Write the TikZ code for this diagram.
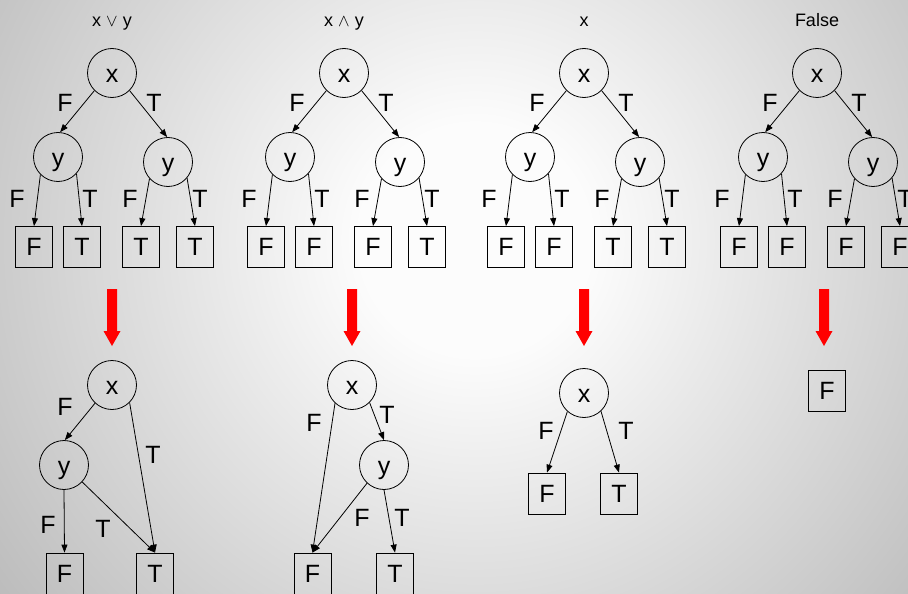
\documentclass[tikz,border=0pt]{standalone}
\usepackage{fontspec}
\setmainfont{Liberation Sans}
\usetikzlibrary{arrows.meta}
\definecolor{bgin}{gray}{0.99}
\definecolor{bgout}{gray}{0.58}
\definecolor{arrowred}{RGB}{255,0,0}
\pgfdeclareradialshading{backdrop}{\pgfpoint{0bp}{0bp}}{%
  color(0bp)=(bgin); color(4bp)=(bgin); color(32bp)=(bgout); color(50bp)=(bgout)}

% full decision tree over x and y with the four leaf values #4..#7
\newcommand\fulltree[7]{%
  \node[titletext] (#1-title) at (#2,27) {#3};
  \node[var] (#1-x)  at (#2,73) {x};
  \node[var] (#1-ya) at ({#2-54},157) {y};
  \node[var] (#1-yb) at ({#2+56},162) {y};
  \node[leaf] (#1-l1) at ({#2-78},247) {#4};
  \node[leaf] (#1-l2) at ({#2-30},247) {#5};
  \node[leaf] (#1-l3) at ({#2+29},247) {#6};
  \node[leaf] (#1-l4) at ({#2+83},247) {#7};
  \draw[edge] (#1-x.225) -- (#1-ya.85);
  \draw[edge] (#1-x.315) -- (#1-yb.92);
  \draw[edge] (#1-ya.225) -- (#1-l1.north);
  \draw[edge] (#1-ya.318) -- (#1-l2.north);
  \draw[edge] (#1-yb.222) -- (#1-l3.north);
  \draw[edge] (#1-yb.320) -- (#1-l4.north);
  \node[lab] (#1-f0) at ({#2-47},103) {F};
  \node[lab] (#1-t0) at ({#2+42},103) {T};
  \node[lab] (#1-f1) at ({#2-95},199) {F};
  \node[lab] (#1-t1) at ({#2-22},199) {T};
  \node[lab] (#1-f2) at ({#2+18},199) {F};
  \node[lab] (#1-t2) at ({#2+88},199) {T};
}

% thick red arrow pointing down, centred on x = #1
\newcommand\reddown[1]{%
  \fill[arrowred] ({#1-5},289) -- ({#1+5},289) -- ({#1+5},331) -- ({#1+8.5},331)
    -- (#1,346) -- ({#1-8.5},331) -- ({#1-5},331) -- cycle;
}

\begin{document}
\begin{tikzpicture}[x=1pt,y=-1pt,
  var/.style={draw, circle, line width=0.8pt, minimum size=49pt, inner sep=0pt,
    font=\fontsize{25}{25}\selectfont, text height=18pt, text depth=0pt},
  leaf/.style={draw, rectangle, line width=0.8pt, minimum width=37pt, minimum height=41pt,
    inner sep=0pt, font=\fontsize{25}{25}\selectfont},
  lab/.style={inner sep=0pt, font=\fontsize{25}{25}\selectfont},
  titletext/.style={anchor=base, inner sep=0pt, font=\fontsize{18}{18}\selectfont},
  edge/.style={line width=0.8pt, -{Triangle[length=8pt,width=6pt]}},
]
\useasboundingbox (0,0) rectangle (908,594);
\begin{scope}
  \clip (0,0) rectangle (908,594);
  \shade[shading=backdrop] (475,240) circle[radius=700];
\end{scope}

\fulltree{or}{112}{x $\vee$ y}{F}{T}{T}{T}
\fulltree{and}{344}{x $\wedge$ y}{F}{F}{F}{T}
\fulltree{id}{584}{x}{F}{F}{T}{T}
\fulltree{false}{817}{False}{F}{F}{F}{F}

\reddown{112}
\reddown{352}
\reddown{584}
\reddown{824}

% reduced diagram for x or y
\node[var]  (ror-x) at (112,385) {x};
\node[var]  (ror-y) at (64,465) {y};
\node[leaf] (ror-f) at (64.5,573.5) {F};
\node[leaf] (ror-t) at (155,573.5) {T};
\draw[edge] (ror-x.227) -- (ror-y.88);
\draw[edge] (ror-x.315) -- (ror-t.north);
\draw[edge] (ror-y.270) -- (ror-f.north);
\draw[edge] (ror-y.317) -- (ror-t.north);
\node[lab] (ror-l1) at (65,407) {F};
\node[lab] (ror-l2) at (153,455) {T};
\node[lab] (ror-l3) at (48,525) {F};
\node[lab] (ror-l4) at (103,529) {T};

% reduced diagram for x and y
\node[var]  (rand-x) at (352,385) {x};
\node[var]  (rand-y) at (384,465) {y};
\node[leaf] (rand-f) at (312.5,573.5) {F};
\node[leaf] (rand-t) at (395,573.5) {T};
\draw[edge] (rand-x.227) -- (rand-f.north);
\draw[edge] (rand-x.315) -- (rand-y.90);
\draw[edge] (rand-y.227) -- (rand-f.north);
\draw[edge] (rand-y.270) -- (rand-t.north);
\node[lab] (rand-l1) at (314,423) {F};
\node[lab] (rand-l2) at (387,415) {T};
\node[lab] (rand-l3) at (362,518) {F};
\node[lab] (rand-l4) at (402,518) {T};

% reduced diagram for x
\node[var]  (rid-x) at (584,393) {x};
\node[leaf] (rid-f) at (547,493.5) {F};
\node[leaf] (rid-t) at (619,493.5) {T};
\draw[edge] (rid-x.228) -- (rid-f.north);
\draw[edge] (rid-x.313) -- (rid-t.north);
\node[lab] (rid-l1) at (546,431) {F};
\node[lab] (rid-l2) at (626,431) {T};

% reduced diagram for False
\node[leaf] (rfalse-f) at (827,390.5) {F};
\end{tikzpicture}
\end{document}
